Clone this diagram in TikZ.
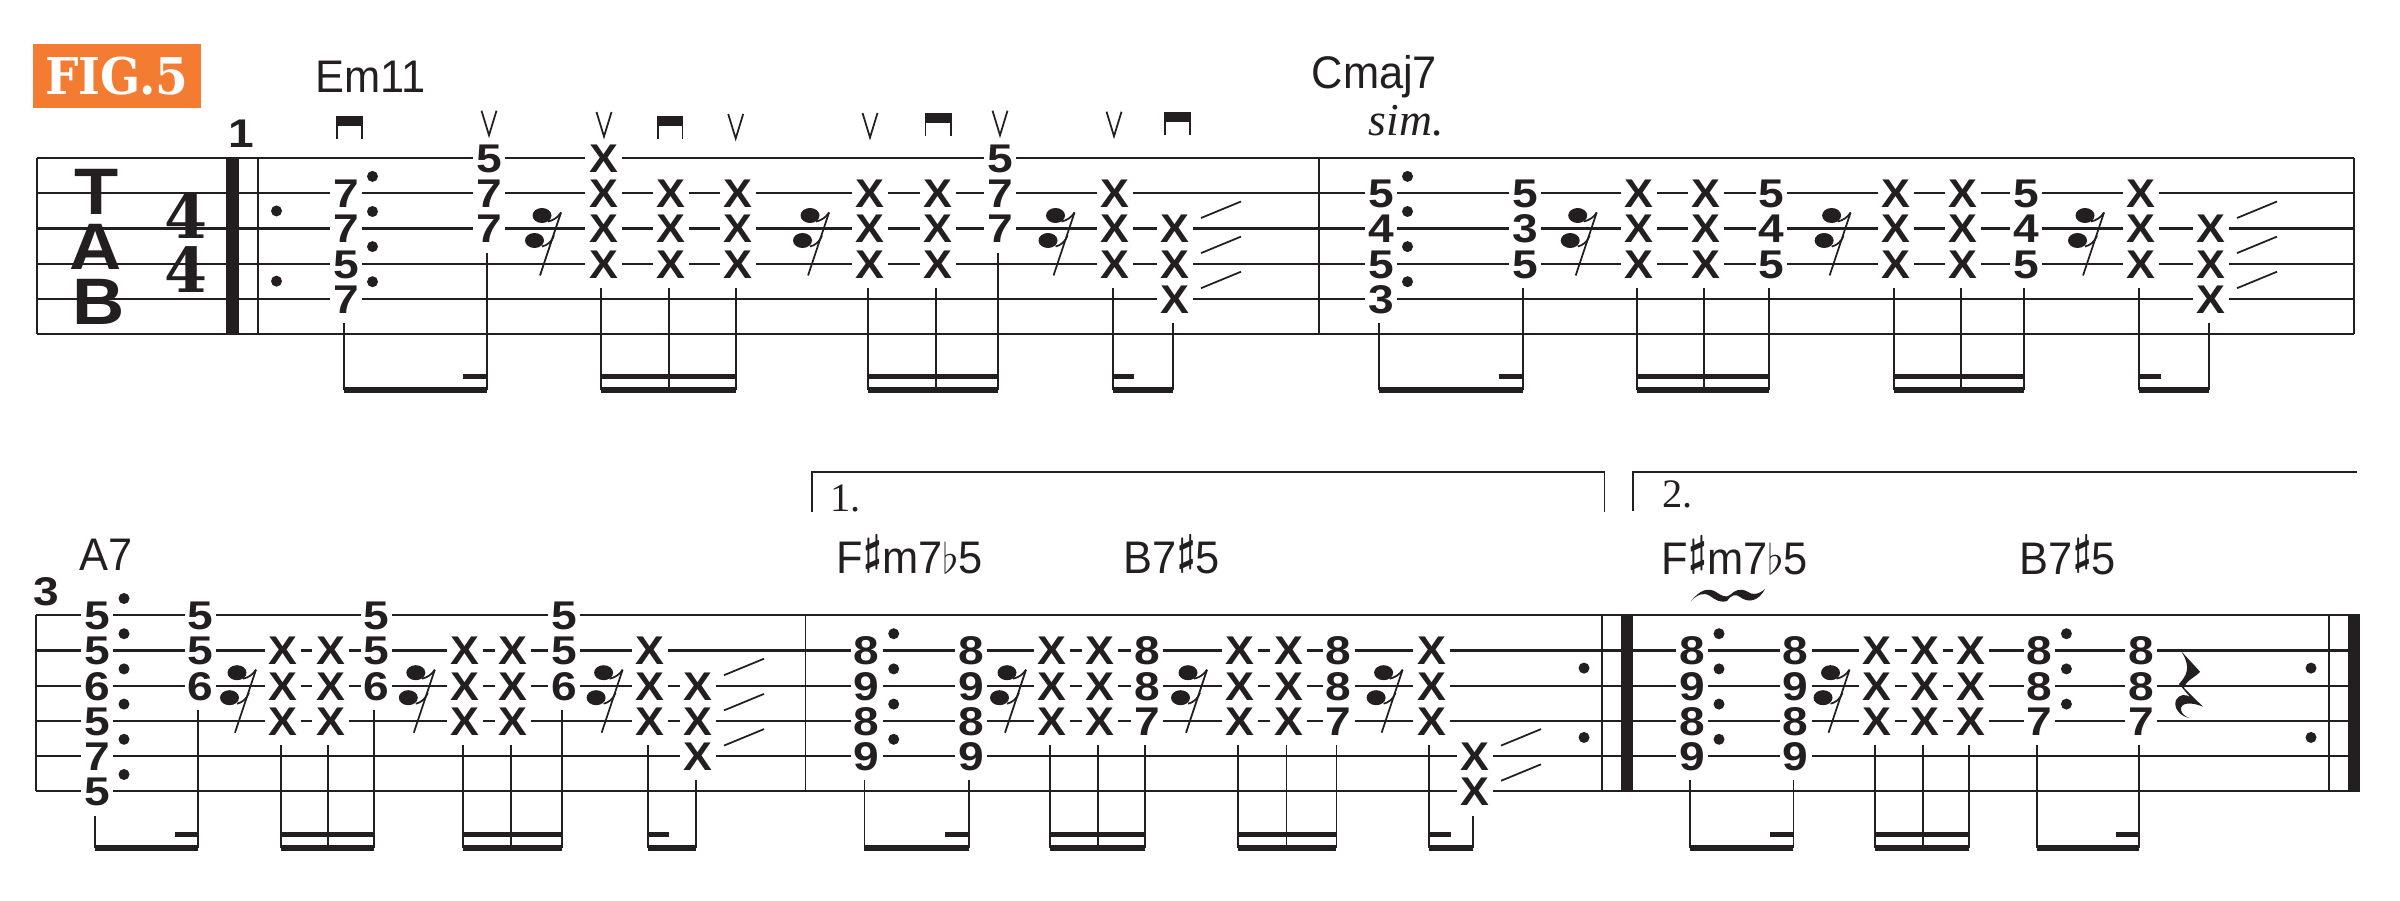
\documentclass[tikz,border=0pt]{standalone}
\usepackage{fontspec}
\usepackage{amsmath}
\usepackage{amssymb}
\usepackage{tikz}
\usetikzlibrary{positioning}
\newfontfamily\fretfont[FakeStretch=1.15]{Liberation Sans}
\newfontfamily\mutefont[FakeStretch=1.08]{Liberation Sans}
\newfontfamily\tabfont[FakeStretch=1.1]{Liberation Sans}
\newfontfamily\chordfont[FakeStretch=0.95]{Liberation Sans}
\newfontfamily\figfont[FakeStretch=0.93]{DejaVu Serif}
\newfontfamily\timefont{DejaVu Serif}
\newfontfamily\serifplain{Liberation Serif}
\definecolor{tabblack}{HTML}{231F20}
\definecolor{figorange}{HTML}{F47B32}
\tikzset{
  stringline/.style={line width=0.6pt},
  stemline/.style={line width=0.5pt},
  beamline/.style={line width=1.5pt},
  barline/.style={line width=0.55pt},
  heavybar/.style={line width=3.5pt},
  fret/.style={fill=white,inner xsep=0.3mm,inner ysep=0pt,text height=2.9mm,text depth=0pt,
    font=\fretfont\bfseries\fontsize{11.4pt}{11.4pt}\selectfont},
  mute/.style={fill=white,inner xsep=0.4mm,inner ysep=0pt,text height=2.9mm,text depth=0pt,
    font=\mutefont\bfseries\fontsize{11.4pt}{11.4pt}\selectfont},
  tabletter/.style={inner sep=0pt,font=\tabfont\bfseries\fontsize{18.7pt}{18.7pt}\selectfont},
  timesig/.style={inner sep=0pt,font=\timefont\bfseries\fontsize{17.6pt}{17.6pt}\selectfont},
  chordname/.style={inner sep=0pt,anchor=base west,font=\chordfont\fontsize{13pt}{13pt}\selectfont},
  voltaname/.style={inner sep=0pt,anchor=base west,font=\serifplain\fontsize{11.5pt}{11.5pt}\selectfont},
}
\newcommand{\sharpsign}{\raisebox{.2em}{$\boldsymbol{\sharp}$}}
\newcommand{\flatsign}{$\flat$}
\newcommand{\fretcol}[3]{\foreach \st/\gl in {#3} \node[fret] (#1s\st) at (#2,\st) {\gl};}
\newcommand{\mutecol}[2]{\foreach \nm/\xp in {#2} {\foreach \st in {#1} \node[mute] (\nm s\st) at (\xp,\st) {X};}}
\newcommand{\stemto}[2]{\draw[stemline] ([xshift=-.23mm,yshift=-.9mm]#1.south) -- ([xshift=-.23mm]#1.south |- low) coordinate (#2);}
\newcommand{\beampair}[2]{\draw[beamline] (#1) -- (#2); \draw[beamline] ([yshift=1.33mm]#1) -- ([yshift=1.33mm]#2);}
\newcommand{\hooktail}[3]{\draw[beamline] (#1) -- (#2); \draw[beamline] ([yshift=1.33mm]#3);}
\newcommand{\slideoff}[1]{\draw[stemline] ([shift={(2.6mm,1.05mm)}]#1.center) -- ([shift={(6.6mm,2.7mm)}]#1.center);}
\newcommand{\restmark}[1]{\begin{scope}[shift={(#1,2)},x=.1mm,y=-.1mm]
  \fill (0,-13) ellipse (9.5 and 7.5);
  \fill (-7.5,12) ellipse (9.5 and 7.5);
  \draw[stemline] (19,-16) -- (-2,47);
  \draw[stemline] (6,-7) .. controls (11,-8) and (16,-11) .. (19,-16);
  \draw[stemline] (0,18) .. controls (5,17) and (10,13) .. (12,7);
\end{scope}}
\newcommand{\downpick}[3]{\fill (#1,#3) rectangle (#2,#3+10.5);
  \draw[stemline] (#1,#3) -- (#1,#3+23.5); \draw[stemline] (#2,#3) -- (#2,#3+23.5);}
\newcommand{\uppick}[2]{\draw[stemline] (#1-7.5,#2) -- (#1,#2+24.5) -- (#1+7.5,#2);}
\begin{document}
\begin{tikzpicture}[x=0.1mm,y=-0.1mm,line cap=butt,color=tabblack]
\useasboundingbox (0,0) rectangle (2400,900);
% header
\node[fill=figorange,text=white,minimum width=16.8mm,minimum height=6.4mm,inner sep=0pt,
  font=\figfont\bfseries\fontsize{14.4pt}{14.4pt}\selectfont] (figlabel) at (117,76) {FIG.5};
\node[chordname] (emeleven) at (315,92.7) {Em11};
\node[chordname] (cmajor) at (1311,88.5) {Cmaj7};
\node[inner sep=0pt,anchor=base west,font=\serifplain\itshape\fontsize{13pt}{13pt}\selectfont] (simile) at (1368,135) {sim.};
\node[chordname] (aseven) at (79,570.7) {A7};
\node[chordname] (fsharpa) at (836,573.3) {F\sharpsign m7\flatsign 5};
\node[chordname] (bsevena) at (1123,573.3) {B7\sharpsign 5};
\node[chordname] (fsharpb) at (1661,574.3) {F\sharpsign m7\flatsign 5};
\node[chordname] (bsevenb) at (2019,574) {B7\sharpsign 5};
% pick marks
\downpick{337}{362}{115.7}
\downpick{658}{682.6}{115.7}
\downpick{925.4}{951}{112.7}
\downpick{1165}{1189.7}{111.7}
\foreach \xp/\yp in {489/110.7,604/112,735.7/114,870/113,1000/110.7,1114/111.7} {\uppick{\xp}{\yp}}
% first line
\begin{scope}[yshift=-15.83mm,y=-3.51mm]
\coordinate (low) at (0,6.6);
\foreach \st in {0,...,5} \draw[stringline] (37,\st) -- (2354,\st);
\draw[barline] (37,0) -- (37,5);
\draw[barline] (2354,0) -- (2354,5);
\draw[heavybar] (232.4,0) -- (232.4,5);
\draw[barline] (257.6,0) -- (257.6,5);
\draw[barline] (1319,0) -- (1319,5);
\node[tabletter] (tabt) at (97,0.954) {T};
\node[tabletter] (taba) at (96,2.52) {A};
\node[tabletter] (tabb) at (98.7,4.09) {B};
\node[timesig] (topfour) at (186,1.63) {4};
\node[timesig] (lowfour) at (186,3.17) {4};
\node[inner sep=0pt,font=\fretfont\bfseries\fontsize{11.4pt}{11.4pt}\selectfont] (barone) at (241,-0.7) {1};
\foreach \yp in {1.5,3.5} \fill (276.5,\yp) circle (.55mm);
\fretcol{a}{346}{1/7,2/7,3/5,4/7}
\fretcol{b}{489}{0/5,1/7,2/7}
\mutecol{0,1,2,3}{c/603.5}
\mutecol{1,2,3}{d/671,e/738,f/870,g/938,i/1115,m/1639,n/1706,p/1896,q/1963,s/2141}
\fretcol{h}{1000}{0/5,1/7,2/7}
\mutecol{2,3,4}{j/1175,t/2211}
\fretcol{k}{1381}{1/5,2/4,3/5,4/3}
\fretcol{l}{1525}{1/5,2/3,3/5}
\fretcol{o}{1771.6}{1/5,2/4,3/5}
\fretcol{r}{2026}{1/5,2/4,3/5}
\foreach \nm/\bt in {a/4,b/2,c/3,d/3,e/3,f/3,g/3,h/2,i/3,j/4,k/4,l/3,m/3,n/3,o/3,p/3,q/3,r/3,s/3,t/4} {\stemto{\nm s\bt}{\nm}}
\foreach \nm in {as1,as2,as3,as4,ks1,ks2,ks3,ks4} \fill ([shift={(2.65mm,1.7mm)}]\nm.center) circle (.55mm);
\foreach \xp in {542,810,1055.5,1577.7,1831.6,2085} {\restmark{\xp}}
\hooktail{a}{b}{b) -- ++(-24,0}
\beampair{c}{e}
\beampair{f}{h}
\hooktail{i}{j}{i) -- ++(21.5,0}
\hooktail{k}{l}{l) -- ++(-24,0}
\beampair{m}{o}
\beampair{p}{r}
\hooktail{s}{t}{s) -- ++(22,0}
\foreach \nm in {js2,js3,js4,ts2,ts3,ts4} {\slideoff{\nm}}
\end{scope}
% second line
\begin{scope}[yshift=-61.53mm,y=-3.52mm]
\coordinate (low) at (0,6.61);
\foreach \st in {0,...,5} \draw[stringline] (36,\st) -- (2360,\st);
\draw[barline] (36,0) -- (36,5);
\draw[barline] (805.5,0) -- (805.5,5);
\draw[barline] (1601.8,0) -- (1601.8,5);
\draw[heavybar] (1627,0) -- (1627,5);
\draw[barline] (2329,0) -- (2329,5);
\draw[heavybar] (2353.7,0) -- (2353.7,5);
\node[inner sep=0pt,font=\fretfont\bfseries\fontsize{11.4pt}{11.4pt}\selectfont] (barthree) at (46,-0.66) {3};
\foreach \xp in {1584,2311} {\foreach \yp in {1.5,3.47} \fill (\xp,\yp) circle (.55mm);}
\fretcol{aa}{97}{0/5,1/5,2/6,3/5,4/7,5/5}
\fretcol{ab}{200.5}{0/5,1/5,2/6}
\mutecol{1,2,3}{ac/283,ad/330.6,af/465,ag/513,ai/650,bc/1052,bd/1100,bf/1240,bg/1288.7,bi/1431.5,cc/1877,cd/1925,ce/1971}
\fretcol{ae}{376.5}{0/5,1/5,2/6}
\fretcol{ah}{564}{0/5,1/5,2/6}
\mutecol{2,3,4}{aj/698}
\fretcol{ba}{866.7}{1/8,2/9,3/8,4/9}
\fretcol{bb}{971}{1/8,2/9,3/8,4/9}
\fretcol{be}{1147}{1/8,2/8,3/7}
\fretcol{bh}{1338.7}{1/8,2/8,3/7}
\mutecol{4,5}{bj/1475}
\fretcol{ca}{1692}{1/8,2/9,3/8,4/9}
\fretcol{cb}{1795.7}{1/8,2/9,3/8,4/9}
\fretcol{cf}{2039.4}{1/8,2/8,3/7}
\fretcol{cg}{2141}{1/8,2/8,3/7}
\foreach \nm/\bt in {aa/5,ab/2,ac/3,ad/3,ae/2,af/3,ag/3,ah/2,ai/3,aj/4,ba/4,bb/4,bc/3,bd/3,be/3,bf/3,bg/3,bh/3,bi/3,bj/5,ca/4,cb/4,cc/3,cd/3,ce/3,cf/3,cg/3} {\stemto{\nm s\bt}{\nm}}
\foreach \nm in {aas0,aas1,aas2,aas3,aas4,aas5,bas1,bas2,bas3,bas4,cas1,cas2,cas3,cas4,cfs1,cfs2,cfs3} \fill ([shift={(2.7mm,1.68mm)}]\nm.center) circle (.55mm);
\foreach \xp in {237,415.8,603.6,1007,1188,1383.6,1830.5} {\restmark{\xp}}
\hooktail{aa}{ab}{ab) -- ++(-23,0}
\beampair{ac}{ae}
\beampair{af}{ah}
\hooktail{ai}{aj}{ai) -- ++(21.5,0}
\hooktail{ba}{bb}{bb) -- ++(-24,0}
\beampair{bc}{be}
\beampair{bf}{bh}
\hooktail{bi}{bj}{bi) -- ++(21.5,0}
\hooktail{ca}{cb}{cb) -- ++(-23.5,0}
\beampair{cc}{ce}
\hooktail{cf}{cg}{cg) -- ++(-23,0}
\foreach \nm in {ajs2,ajs3,ajs4,bjs4,bjs5} {\slideoff{\nm}}
\end{scope}
% voltas
\draw[stemline] (812,512) -- (812,472.3) -- (1604.5,472.3) -- (1604.5,511.7);
\draw[stemline] (1632.8,511) -- (1632.8,472.3) -- (2356.5,472.3);
\node[voltaname] (voltaone) at (830,511) {1.};
\node[voltaname] (voltatwo) at (1662,507.3) {2.};
% vibrato and crotchet rest
\fill (1691,601) .. controls (1700,590) and (1708,587) .. (1716,592) .. controls (1722,596) and (1726,598) .. (1730,595)
  .. controls (1734,591) and (1740,587) .. (1748,592) .. controls (1752,595) and (1758,595) .. (1765,589)
  .. controls (1758,602) and (1748,603) .. (1740,597) .. controls (1736,594) and (1732,594) .. (1727,601)
  .. controls (1720,603) and (1716,600) .. (1710,596) .. controls (1704,592) and (1698,594) .. cycle;
\fill (2181,651) -- (2200,671.7) .. controls (2196,677) and (2186,680) .. (2184,688) -- (2203,706.7)
  .. controls (2192,702) and (2180,702) .. (2181,710) .. controls (2182,714) and (2185,716) .. (2189,718)
  .. controls (2180,716) and (2173,708) .. (2176,700) .. controls (2179,694) and (2186,694) .. (2190,697)
  -- (2179,684) .. controls (2186,676) and (2192,668) .. cycle;
\end{tikzpicture}
\end{document}
